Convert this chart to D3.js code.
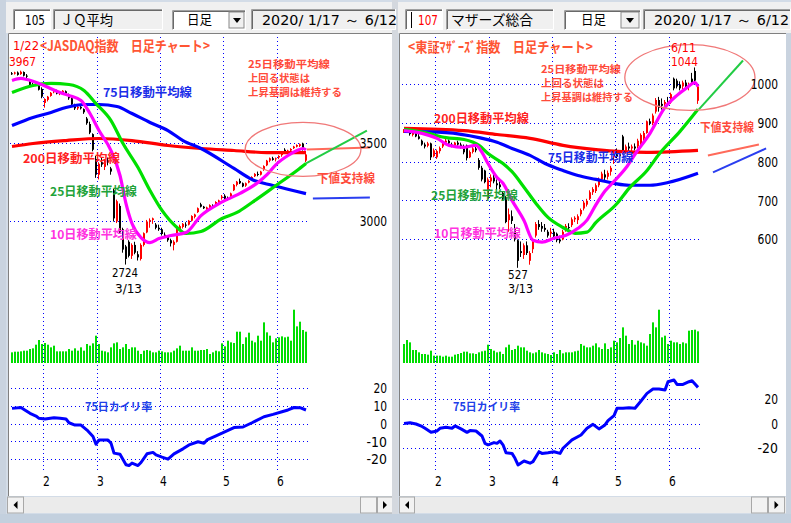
<!DOCTYPE html>
<html><head><meta charset="utf-8">
<script src="https://cdn.jsdelivr.net/npm/d3@7"></script>
<style>html,body{margin:0;padding:0;background:#d6dfe9;}svg{display:block;}</style>
</head><body>
<svg id="c" width="791" height="523"></svg>
<script>
// ---------------- DATA ----------------
const dates = ["1/17","1/20","1/21","1/22","1/23","1/24","1/27","1/28","1/29","1/30","1/31",
"2/3","2/4","2/5","2/6","2/7","2/10","2/12","2/13","2/14","2/17","2/18","2/19","2/20","2/21","2/25","2/26","2/27","2/28",
"3/2","3/3","3/4","3/5","3/6","3/9","3/10","3/11","3/12","3/13","3/16","3/17","3/18","3/19","3/23","3/24","3/25","3/26","3/27","3/30","3/31",
"4/1","4/2","4/3","4/6","4/7","4/8","4/9","4/10","4/13","4/14","4/15","4/16","4/17","4/20","4/21","4/22","4/23","4/24","4/27","4/28","4/30",
"5/1","5/7","5/8","5/11","5/12","5/13","5/14","5/15","5/18","5/19","5/20","5/21","5/22","5/25","5/26","5/27","5/28","5/29",
"6/1","6/2","6/3","6/4","6/5","6/8","6/9","6/10","6/11","6/12"];
const monthStarts = ["2/3","3/2","4/1","5/1","6/1"];
const monthLabels = ["2","3","4","5","6"];

// JASDAQ OHLC [open, high, low, close]
const jqOHLC = [
[3950,3958,3940,3948],[3948,3960,3942,3955],[3955,3962,3935,3940],[3945,3967,3940,3960],[3958,3962,3930,3935],
[3935,3945,3920,3930],[3900,3905,3870,3875],[3880,3890,3865,3870],[3875,3890,3868,3885],[3880,3882,3840,3845],
[3850,3860,3790,3800],[3760,3790,3730,3785],[3780,3805,3770,3800],[3805,3830,3800,3825],[3830,3845,3822,3835],
[3838,3845,3815,3820],[3820,3835,3810,3830],[3830,3842,3825,3838],[3835,3840,3815,3820],[3815,3820,3780,3790],
[3790,3795,3745,3750],[3745,3755,3715,3725],[3725,3740,3715,3735],[3735,3745,3718,3725],[3720,3725,3690,3700],
[3660,3670,3620,3630],[3625,3640,3560,3570],[3560,3565,3450,3460],[3400,3420,3280,3300],[3300,3380,3270,3370],
[3380,3410,3350,3365],[3350,3400,3330,3390],[3390,3410,3360,3380],[3340,3350,3300,3320],[3200,3210,3000,3020],
[3000,3140,2990,3130],[3100,3115,2920,2930],[2950,2960,2800,2820],[2840,2850,2724,2760],[2870,2880,2770,2780],
[2780,2860,2760,2850],[2850,2870,2790,2800],[2790,2810,2750,2770],[2760,2860,2750,2850],[2850,2930,2840,2925],
[2930,3010,2925,3000],[3000,3020,2960,3010],[3010,3025,2985,3020],[2980,2990,2950,2960],[2960,2980,2940,2950],
[2950,2960,2910,2920],[2915,2930,2895,2905],[2905,2910,2870,2880],[2880,2890,2840,2860],[2850,2880,2815,2870],
[2870,2955,2865,2950],[2950,2980,2940,2970],[2965,2990,2955,2985],[2980,2995,2960,2975],[2980,3010,2975,3005],
[3005,3040,3000,3035],[3030,3050,3020,3045],[3060,3090,3055,3085],[3110,3120,3090,3095],[3095,3100,3080,3085],
[3080,3095,3075,3090],[3090,3110,3085,3105],[3100,3110,3090,3095],[3100,3130,3098,3125],[3125,3140,3115,3135],
[3150,3170,3140,3160],[3165,3175,3140,3145],[3150,3160,3135,3140],[3160,3185,3155,3180],[3200,3240,3195,3235],
[3235,3260,3225,3255],[3260,3275,3240,3245],[3245,3250,3220,3225],[3230,3250,3222,3245],[3250,3265,3245,3260],
[3270,3290,3265,3285],[3290,3310,3285,3305],[3305,3320,3290,3300],[3300,3325,3295,3320],[3330,3360,3325,3355],
[3360,3395,3355,3390],[3390,3410,3380,3405],[3405,3415,3390,3395],[3400,3410,3385,3405],[3410,3425,3400,3420],
[3425,3440,3415,3435],[3460,3470,3435,3440],[3445,3460,3440,3455],[3455,3470,3450,3465],[3470,3485,3465,3480],
[3480,3495,3475,3490],[3485,3500,3478,3495],[3500,3505,3455,3460],[3390,3440,3380,3430]];

// Mothers OHLC
const mzOHLC = [
[880,885,875,882],[882,888,876,878],[878,882,868,872],[870,880,866,876],[876,878,864,866],
[866,872,858,860],[855,858,842,845],[845,850,835,840],[842,852,838,848],[848,850,805,812],
[815,835,812,830],[812,832,808,828],[828,840,822,836],[840,852,836,848],[850,860,845,855],
[855,858,845,848],[845,850,838,842],[842,852,840,850],[850,855,842,845],[845,850,835,840],
[840,845,820,825],[843,845,804,810],[812,830,810,826],[826,840,822,835],[835,840,825,830],
[805,810,780,785],[785,790,750,755],[778,780,745,748],[705,760,700,755],[750,768,735,760],
[760,775,745,750],[745,755,728,740],[742,752,730,735],[720,725,700,705],[709,712,642,645],
[650,680,620,665],[660,675,640,648],[630,640,595,600],[598,600,527,545],[570,595,555,565],
[560,590,550,585],[585,595,560,565],[545,570,535,565],[575,600,565,595],[610,645,605,640],
[640,650,625,632],[635,645,620,628],[630,640,620,625],[620,625,605,610],[615,630,605,620],
[620,628,605,608],[615,618,593,598],[600,610,590,595],[600,625,598,620],[625,640,620,635],
[632,642,622,630],[637,657,632,652],[652,660,645,656],[650,665,640,660],[665,680,660,676],
[680,700,675,695],[690,705,685,700],[705,727,702,722],[722,735,715,730],[725,745,720,740],
[740,760,735,755],[755,775,750,770],[768,780,752,760],[762,778,755,772],[775,790,765,785],
[812,830,795,825],[820,835,810,815],[815,825,805,820],[866,870,822,830],[830,845,825,840],
[840,850,828,835],[835,845,825,840],[840,848,830,835],[840,860,835,855],[845,874,843,870],
[860,880,855,875],[875,907,873,905],[905,912,895,900],[900,925,895,920],[930,965,925,960],
[960,968,930,940],[950,964,935,945],[950,960,940,955],[955,968,945,950],[954,979,950,975],
[1015,1018,985,990],[1010,1015,990,995],[1000,1008,985,990],[995,1010,988,1005],[1005,1012,990,995],
[995,1005,985,1000],[1015,1030,1000,1005],[1035,1044,1005,1010],[958,1000,950,995]];

// volumes (relative units)
const jqVolume = [32,34,34,35,37,37,42,44,55,69,57,60,55,47,52,35,35,35,35,42,37,44,37,47,37,57,52,59,82,57,
37,35,32,47,59,62,42,47,57,42,47,47,37,27,37,39,37,32,32,37,35,32,32,32,37,44,52,37,37,37,
47,37,37,39,39,42,27,32,37,35,59,50,67,62,60,94,94,57,77,91,67,62,82,67,122,92,82,62,74,77,
80,77,79,67,160,110,124,99,94];
const mzVolume = [57,69,62,39,39,32,27,27,25,37,22,22,22,19,22,19,19,25,27,30,34,34,29,29,27,32,35,37,55,42,
37,32,34,27,47,55,39,42,52,47,47,37,32,29,32,39,32,29,27,24,32,27,39,29,32,32,32,35,37,57,
52,47,47,52,59,47,42,59,42,47,67,62,75,107,82,57,69,55,67,62,59,52,87,122,107,160,77,82,57,67,
62,62,57,62,59,97,99,100,95];

// moving averages: [trading-day index, value]
const jqMA10 = [[0,3904],[3,3917],[5,3910],[9,3885],[16,3827],[19,3808],[23,3776],[26,3692],[29,3583],[33,3455],[36,3295],[38,3115],[40,2987],[43,2897],[46,2865],[49,2891],[53,2910],[58,2929],[63,3038],[69,3115],[76,3180],[82,3250],[85,3300],[88,3365],[92,3423],[95,3455],[97,3468],[98,3458]];
const jqMA25 = [[0,3827],[7,3872],[13,3885],[19,3878],[24,3840],[28,3756],[33,3647],[37,3500],[42,3346],[46,3199],[50,3071],[55,2962],[58,2923],[63,2936],[70,3019],[75,3058],[80,3122],[88,3231],[95,3327],[98,3372]];
const jqMA75 = [[0,3615],[7,3667],[13,3699],[18,3731],[24,3750],[29,3750],[35,3737],[40,3692],[46,3635],[52,3583],[57,3519],[63,3468],[74,3340],[80,3269],[87,3231],[98,3179]];
const jqMA200 = [[0,3481],[7,3500],[18,3519],[29,3532],[40,3519],[52,3487],[63,3468],[74,3455],[85,3442],[98,3442]];
const mzMA10 = [[0,881],[6,874],[11,861],[15,843],[20,838],[24,843],[26,825],[28,796],[31,760],[33,745],[36,701],[40,649],[43,598],[46,593],[50,603],[54,611],[58,629],[61,650],[64,690],[67,725],[70,750],[74,785],[77,820],[82,874],[87,941],[91,972],[94,990],[97,1005],[98,995]];
const mzMA25 = [[0,884],[7,876],[14,863],[20,858],[25,843],[28,822],[33,796],[36,775],[40,735],[44,693],[48,657],[53,631],[57,616],[61,619],[64,644],[71,693],[75,732],[81,778],[85,820],[92,879],[98,936]];
const mzMA75 = [[0,879],[14,876],[25,863],[31,851],[36,835],[42,817],[47,796],[53,778],[58,765],[64,755],[70,745],[75,740],[82,740],[88,747],[98,771]];
const mzMA200 = [[0,887],[20,881],[31,871],[42,861],[53,843],[64,832],[81,825],[98,830]];

// 75-day deviation rate (%)
const jqDev = [[0,8.8],[3,9.3],[4,8.2],[6,6],[8,4.5],[9,3.2],[11,2.8],[14,3.5],[16,3.2],[18,2.8],[19,0.7],[21,-0.6],[23,-0.6],[25,-3.4],[27,-7],[28,-11.4],[29,-9],[32,-9],[33,-10.8],[34,-16.4],[36,-17],[38,-23],[39,-23.4],[40,-22],[42,-23.4],[43,-21.7],[45,-16.8],[47,-16],[48,-17.4],[50,-18.7],[52,-19.8],[54,-16.8],[57,-14],[59,-11.8],[62,-10],[64,-10.8],[65,-9],[68,-6.7],[70,-5.2],[74,-2],[77,-1.7],[80,0.7],[84,4.1],[87,5.4],[90,6.9],[92,7.9],[94,9.3],[96,9.2],[98,7.9]];
const mzDev = [[0,0.5],[2,1],[4,0],[6,-2],[7,-3.5],[9,-6.8],[11,-5.7],[12,-3.5],[14,-2.7],[16,-3.5],[17,-1.6],[19,-4],[21,-6.8],[22,-5.4],[24,-5.7],[26,-9.8],[27,-15.8],[28,-17],[30,-15.2],[31,-15.8],[32,-13.9],[33,-17],[34,-23.4],[36,-24],[37,-28],[38,-33.4],[40,-30.2],[42,-32],[43,-30.7],[45,-22.6],[46,-24],[48,-23.4],[50,-22.6],[52,-24],[53,-19.8],[56,-13],[59,-9],[61,-3.5],[63,-0.3],[65,-4],[67,-0.8],[68,2.7],[70,6.8],[71,12.8],[73,12.8],[75,13.3],[77,12.8],[79,18.8],[81,25],[83,28.5],[85,28.5],[87,27.7],[88,34.5],[90,35.9],[91,32.3],[93,32.3],[95,34.5],[96,35.3],[97,32.6],[98,29.9]];

// hand-drawn support lines / circles (day index, price)
const jqSupportGreen = [[98,3372],[118.3,3583]];
const jqSupportRed = [[98.3,3462],[119.3,3474]];
const jqSupportBlue = [[100.3,3147],[119.3,3154]];
const jqCircle = {day:97, price:3462, days:19.3, points:173};
const mzSupportGreen = [[98.3,936],[113,1062]];
const mzSupportRed = [[101.3,817],[118.3,845]];
const mzSupportBlue = [[103,773],[120.7,835]];
const mzCircle = {day:95.3, price:1018, days:21.7, points:85};

const jqPriceTicks = [3000,3500];
const mzPriceTicks = [600,700,800,900,1000];
const jqDevTicks = [-20,-10,0,10,20];
const mzDevTicks = [-20,0,20];

// ---------------- DRAW ----------------
const JP = "'Noto Sans CJK JP','Noto Sans CJK SC',sans-serif";
const NUM = "'Liberation Sans Narrow','DejaVu Sans Condensed','Liberation Sans',sans-serif";
const svg = d3.select("#c");
svg.append("rect").attr("width",791).attr("height",523).attr("fill","#d3dce7");

function txt(g, s, x, yc, o){
  o = o||{};
  const size=o.size||12;
  const t=g.append("text").text(s).attr("x",x)
   .attr("y", yc + (o.cjk===false?0.36:0.38)*size)
   .attr("font-family", o.font||JP).attr("font-size",size)
   .attr("font-weight",o.weight||"normal").attr("fill",o.color||"#000")
   .attr("text-anchor",o.anchor||"start");
  if(o.len){t.attr("textLength",o.len).attr("lengthAdjust","spacingAndGlyphs");}
  return t;
}

function box(g,x,y,w,h,fill){
  g.append("rect").attr("x",x).attr("y",y).attr("width",w).attr("height",h).attr("fill",fill);
  g.append("path").attr("d",`M${x+0.5},${y+h}V${y+0.5}H${x+w}`).attr("stroke","#a0a0a0").attr("fill","none");
  g.append("path").attr("d",`M${x+1.5},${y+h-1}V${y+1.5}H${x+w-1}`).attr("stroke","#696969").attr("fill","none");
  g.append("path").attr("d",`M${x+0.5},${y+h-0.5}H${x+w-0.5}V${y}`).attr("stroke","#ffffff").attr("fill","none");
}

function panel(cfg){
  const g = svg.append("g");
  const ox = cfg.ox;
  g.append("rect").attr("x",cfg.tbx).attr("y",2).attr("width",cfg.tbw).attr("height",31).attr("fill","#f0f0f0");
  g.append("rect").attr("x",cfg.wx).attr("y",33).attr("width",cfg.ww).attr("height",463).attr("fill","#ffffff");
  g.append("path").attr("d",`M${cfg.wx+0.5},496V33.5H${cfg.wx+cfg.ww}`).attr("stroke","#808080").attr("fill","none");

  const x = d3.scaleLinear().domain([0,dates.length-1]).range([ox+12, ox+306]);
  const xd = d => x(dates.indexOf(d));
  const y = d3.scaleLinear().domain(cfg.pDom).range(cfg.pRange);
  const vy = d3.scaleLinear().domain([0,160]).range([363,309.7]);
  const dy = d3.scaleLinear().domain([-20,20]).range(cfg.dRange);
  const crisp = v => Math.round(v-0.5)+0.5;

  const grid = g.append("g").attr("stroke","#0000ff").attr("stroke-dasharray","1,3").attr("fill","none");
  monthStarts.forEach(m=>{
    grid.append("line").attr("x1",xd(m)-1.5).attr("x2",xd(m)-1.5).attr("y1",37).attr("y2",471);
  });
  cfg.pTicks.forEach(v=>grid.append("line").attr("x1",ox+10).attr("x2",ox+309).attr("y1",crisp(y(v))).attr("y2",crisp(y(v))));
  cfg.dTicks.forEach(v=>grid.append("line").attr("x1",ox+11).attr("x2",ox+309).attr("y1",crisp(dy(v))).attr("y2",crisp(dy(v))));

  g.append("g").selectAll("rect").data(cfg.vol).join("rect")
   .attr("x",(d,i)=>x(i)-1).attr("width",2)
   .attr("y",d=>vy(d)).attr("height",d=>vy(0)-vy(d)).attr("fill","#00dd00");

  const cg = g.append("g");
  cfg.ohlc.forEach((c,i)=>{
    const [o,h,l,cl]=c; const col = cl>=o ? "#ff0000" : "#000000";
    cg.append("rect").attr("x",x(i)-1).attr("width",1).attr("y",y(h)).attr("height",Math.max(1,y(l)-y(h))).attr("fill",col);
    const top=y(Math.max(o,cl)), bot=y(Math.min(o,cl));
    cg.append("rect").attr("x",x(i)-1).attr("width",2).attr("y",top).attr("height",Math.max(1,bot-top)).attr("fill",col);
  });

  const line = d3.line().x(d=>x(d[0])).y(d=>y(d[1])).curve(d3.curveMonotoneX);
  const ma = [[cfg.ma200,"#ff0000"],[cfg.ma75,"#0000ff"],[cfg.ma25,"#00e000"],[cfg.ma10,"#ff00ff"]];
  ma.forEach(([d,c])=>g.append("path").attr("d",line(d)).attr("stroke",c).attr("stroke-width",3.2).attr("fill","none"));

  const sl = d3.line().x(d=>x(d[0])).y(d=>y(d[1]));
  g.append("path").attr("d",sl(cfg.sRed)).attr("stroke","#ff6a5a").attr("stroke-width",2).attr("fill","none");
  g.append("path").attr("d",sl(cfg.sGreen)).attr("stroke","#22cc44").attr("stroke-width",2).attr("fill","none");
  g.append("path").attr("d",sl(cfg.sBlue)).attr("stroke","#2a3ef0").attr("stroke-width",2).attr("fill","none");
  const C=cfg.circle;
  g.append("ellipse").attr("cx",x(C.day)).attr("cy",y(C.price))
   .attr("rx",x(C.day+C.days)-x(C.day)).attr("ry",y(C.price-C.points)-y(C.price))
   .attr("stroke","#f07878").attr("stroke-width",1.3).attr("fill","none");

  const dl = d3.line().x(d=>x(d[0])).y(d=>dy(d[1]));
  g.append("path").attr("d",dl(cfg.dev)).attr("stroke","#0000ff").attr("stroke-width",3).attr("fill","none").attr("stroke-linejoin","round");

  const pa = g.append("g").attr("transform",`translate(${cfg.lx},0)`)
   .call(d3.axisLeft(y).tickValues(cfg.pTicks).tickSize(0).tickPadding(0).tickFormat(d3.format("d")));
  const da = g.append("g").attr("transform",`translate(${cfg.lx},0)`)
   .call(d3.axisLeft(dy).tickValues(cfg.dTicks).tickSize(0).tickPadding(0).tickFormat(d=>d<0?"-"+Math.abs(d):d));
  const ma2 = g.append("g").attr("transform",`translate(0,476)`)
   .call(d3.axisBottom(x).tickValues(monthStarts.map(m=>dates.indexOf(m))).tickSize(0).tickPadding(0).tickFormat((d,i)=>monthLabels[i]));
  [pa,da,ma2].forEach(a=>{
    a.select(".domain").remove();
    a.selectAll("text").attr("font-family",NUM).attr("font-size",14).attr("fill","#000")
     .each(function(){const s=this.textContent; d3.select(this).attr("textLength",s.length*6.8).attr("lengthAdjust","spacingAndGlyphs");});
  });
  ma2.selectAll(".tick").attr("transform",function(){const t=d3.select(this).attr("transform");const m=/translate\(([-\d.]+)/.exec(t);return `translate(${+m[1]+1},0)`;});

  const sb = g.append("g");
  sb.append("rect").attr("x",cfg.wx).attr("y",497).attr("width",cfg.ww).attr("height",16).attr("fill","#ebebeb");
  cfg.sbButtons.forEach(([bx,w,arrow])=>{
    sb.append("rect").attr("x",bx).attr("y",497).attr("width",w).attr("height",16).attr("fill","#f2f2f2").attr("stroke","#a8a8a8");
    if(arrow){
      const cx=bx+w/2, cy=505;
      sb.append("path").attr("d", arrow==="L" ? `M${cx+2},${cy-4}L${cx-2},${cy}L${cx+2},${cy+4}Z` : `M${cx-2},${cy-4}L${cx+2},${cy}L${cx-2},${cy+4}Z`).attr("fill","#000");
    }
  });
  return {g,x,y};
}

const L = panel({ox:0, tbx:6, tbw:389, wx:8, ww:384, pDom:[3000,3500], pRange:[221.5,143.5], dRange:[459.5,388.5],
  pTicks:jqPriceTicks, dTicks:jqDevTicks, vol:jqVolume, ohlc:jqOHLC, ma10:jqMA10, ma25:jqMA25, ma75:jqMA75, ma200:jqMA200,
  sRed:jqSupportRed, sGreen:jqSupportGreen, sBlue:jqSupportBlue, circle:jqCircle, dev:jqDev, lx:387,
  sbButtons:[[7.5,16,"L"],[360.5,16,null],[377.5,15,"R"]]});
const R = panel({ox:392, tbx:398, tbw:393, wx:399, ww:387, pDom:[600,1000], pRange:[239.5,84.5], dRange:[448.5,399.5],
  pTicks:mzPriceTicks, dTicks:mzDevTicks, vol:mzVolume, ohlc:mzOHLC, ma10:mzMA10, ma25:mzMA25, ma75:mzMA75, ma200:mzMA200,
  sRed:mzSupportRed, sGreen:mzSupportGreen, sBlue:mzSupportBlue, circle:mzCircle, dev:mzDev, lx:778,
  sbButtons:[[399.5,15,"L"],[751.5,16,null],[768.5,16,"R"]]});

svg.append("rect").attr("x",392).attr("y",0).attr("width",6).attr("height",514).attr("fill","#d4d8de");
svg.append("rect").attr("x",0).attr("y",514).attr("width",791).attr("height",9).attr("fill","#c3d0de");
svg.append("rect").attr("x",0).attr("y",0).attr("width",6).attr("height",514).attr("fill","#c9d3df");
svg.append("rect").attr("x",786).attr("y",33).attr("width",5).attr("height",481).attr("fill","#c9d3df");

const tb = svg.append("g");
box(tb,13,9,38,21,"#ffffff"); txt(tb,"105",45,19.5,{size:14,font:NUM,anchor:"end",cjk:false,len:20});
box(tb,53,9,110,21,"#f0f0f0"); txt(tb,"ＪＱ平均",60,19.5,{size:14,len:53});
box(tb,172,10,74,20,"#ffffff"); txt(tb,"日足",187,19.5,{size:13,len:25});
tb.append("rect").attr("x",229).attr("y",12).attr("width",15).attr("height",16).attr("fill","#f0f0f0").attr("stroke","#888");
tb.append("path").attr("d","M233,18H241L237,23Z").attr("fill","#000");
box(tb,251,9,145,21,"#f0f0f0"); txt(tb,"2020/ 1/17 ～  6/12",262,19.5,{size:14,font:NUM,cjk:false,len:135});

box(tb,405,9,38,21,"#ffffff");
tb.append("rect").attr("x",411).attr("y",12).attr("width",1).attr("height",16).attr("fill","#000");
txt(tb,"107",438,19.5,{size:14,font:NUM,anchor:"end",cjk:false,len:20,color:"#ff0000"});
box(tb,446,9,108,21,"#f0f0f0"); txt(tb,"マザーズ総合",451,19.5,{size:14,len:82});
box(tb,564,10,77,20,"#ffffff"); txt(tb,"日足",581,19.5,{size:13,len:25});
tb.append("rect").attr("x",621).attr("y",12).attr("width",18).attr("height",16).attr("fill","#f0f0f0").attr("stroke","#888");
tb.append("path").attr("d","M626,18H634L630,23Z").attr("fill","#000");
box(tb,643,9,148,21,"#f0f0f0"); txt(tb,"2020/ 1/17 ～  6/12",654,19.5,{size:14,font:NUM,cjk:false,len:135});

const aL = svg.append("g");
const red="#ff4a3a";
txt(aL,"<JASDAQ指数　日足チャート>",40,46,{size:14,weight:"bold",color:"#ff5533",len:170});
txt(aL,"1/22",13,45,{size:13,font:NUM,cjk:false,color:"#ff0000",len:26});
txt(aL,"3967",9,61,{size:13,font:NUM,cjk:false,color:"#ff0000",len:27});
txt(aL,"75日移動平均線",103,92,{size:12,weight:"bold",color:"#1a2ee8",len:89});
txt(aL,"200日移動平均線",23,158,{size:12,weight:"bold",color:"#ff2222",len:97});
txt(aL,"25日移動平均線",50,191,{size:12,weight:"bold",color:"#1fa33a",len:87});
txt(aL,"10日移動平均線",50,234,{size:12,weight:"bold",color:"#ff33e0",len:87});
txt(aL,"2724",112,272,{size:13,font:NUM,cjk:false,len:26});
txt(aL,"3/13",115,288,{size:13,font:NUM,cjk:false,len:27});
txt(aL,"25日移動平均線",248,64,{size:10,weight:"bold",color:red,len:82});
txt(aL,"上回る状態は",248,78,{size:10,weight:"bold",color:red,len:62});
txt(aL,"上昇基調は維持する",248,92,{size:10,weight:"bold",color:red,len:94});
txt(aL,"下値支持線",317,178,{size:12,weight:"bold",color:red,len:58});
txt(aL,"75日カイリ率",85,407,{size:11,weight:"bold",color:"#2040e8",len:67});

const aR = svg.append("g");
txt(aR,"<東証ﾏｻﾞｰｽﾞ指数　日足チャート>",408,47,{size:14,weight:"bold",color:"#ff5533",len:185});
txt(aR,"25日移動平均線",541,69,{size:10,weight:"bold",color:red,len:80});
txt(aR,"上回る状態は",541,83,{size:10,weight:"bold",color:red,len:63});
txt(aR,"上昇基調は維持する",541,97,{size:10,weight:"bold",color:red,len:92});
txt(aR,"200日移動平均線",434,118,{size:12,weight:"bold",color:"#ff2222",len:95});
txt(aR,"75日移動平均線",548,157,{size:12,weight:"bold",color:"#1a2ee8",len:85});
txt(aR,"25日移動平均線",431,195,{size:12,weight:"bold",color:"#1fa33a",len:87});
txt(aR,"10日移動平均線",434,233,{size:12,weight:"bold",color:"#ff33e0",len:87});
txt(aR,"527",508,275,{size:12,font:NUM,cjk:false,len:20});
txt(aR,"3/13",508,289,{size:12,font:NUM,cjk:false,len:25});
txt(aR,"6/11",671,47,{size:13,font:NUM,cjk:false,color:"#ff0000",len:25});
txt(aR,"1044",671,61,{size:13,font:NUM,cjk:false,color:"#ff0000",len:27});
txt(aR,"下値支持線",700,127,{size:12,weight:"bold",color:red,len:54});
txt(aR,"75日カイリ率",453,407,{size:11,weight:"bold",color:"#2040e8",len:67});
</script>
</body></html>
